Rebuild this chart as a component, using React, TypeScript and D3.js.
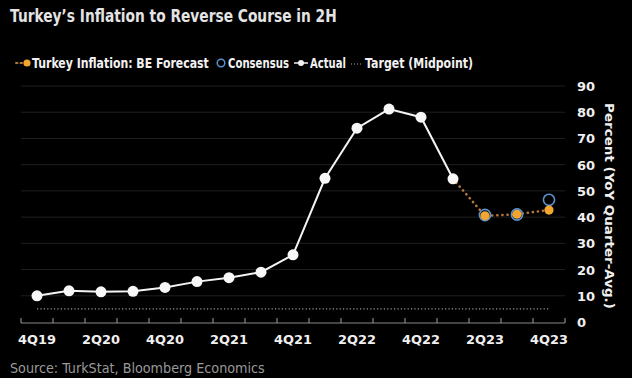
import React, { useLayoutEffect, useRef, useState } from "react";
import * as d3 from "d3";

const quarters = ["4Q19","1Q20","2Q20","3Q20","4Q20","1Q21","2Q21","3Q21","4Q21","1Q22","2Q22","3Q22","4Q22","1Q23","2Q23","3Q23","4Q23"];
const actualQuarters = ["4Q19","1Q20","2Q20","3Q20","4Q20","1Q21","2Q21","3Q21","4Q21","1Q22","2Q22","3Q22","4Q22","1Q23"];
const actualValues = [10.0, 11.9, 11.5, 11.7, 13.2, 15.4, 16.9, 19.0, 25.6, 54.8, 73.9, 81.2, 78.1, 54.6];
const forecastQuarters = ["1Q23","2Q23","3Q23","4Q23"];
const forecastValues = [54.6, 40.5, 41.1, 42.7];
const consensusQuarters = ["2Q23","3Q23","4Q23"];
const consensusValues = [40.8, 41.0, 46.6];
const targetValue = 5;
const yTicks = [0,10,20,30,40,50,60,70,80,90];
const xTickLabels = ["4Q19","2Q20","4Q20","2Q21","4Q21","2Q22","4Q22","2Q23","4Q23"];

const FONT = "'DejaVu Sans', Verdana, sans-serif";
const ORANGE = "#f2a531";
const BLUE = "#5a93cf";

type FitProps = {
  x: number; y: number; width: number; text: string;
  anchor?: "start" | "middle" | "end"; rotate?: number;
  fontSize: number; fontWeight?: string; fill: string; fontFamily?: string;
};

function FitText({ x, y, width, text, anchor = "start", rotate = 0, fontSize, fontWeight = "normal", fill, fontFamily }: FitProps) {
  const ref = useRef<SVGTextElement>(null);
  const [s, setS] = useState(1);
  useLayoutEffect(() => {
    if (ref.current) {
      const w = ref.current.getComputedTextLength();
      if (w > 0) setS(width / w);
    }
  }, [width, text, fontSize]);
  return (
    <g transform={`translate(${x},${y}) rotate(${rotate}) scale(${s},1)`}>
      <text ref={ref} x={0} y={0} textAnchor={anchor} fontSize={fontSize} fontWeight={fontWeight} fill={fill} fontFamily={fontFamily}>{text}</text>
    </g>
  );
}

export default function App() {
  const x = d3.scaleBand<string>().domain(quarters).range([21, 565]).padding(0);
  const cx = (q: string) => (x(q) as number) + x.bandwidth() / 2;
  const y = d3.scaleLinear().domain([0, 90]).range([322, 86]);

  const line = d3.line<[string, number]>().x(d => cx(d[0])).y(d => y(d[1]));
  const actual = actualQuarters.map((q, i) => [q, actualValues[i]] as [string, number]);
  const forecast = forecastQuarters.map((q, i) => [q, forecastValues[i]] as [string, number]);
  const consensus = consensusQuarters.map((q, i) => [q, consensusValues[i]] as [string, number]);

  const tickXs = [...quarters.map(q => x(q) as number), x.range()[1]];

  return (
    <svg width={632} height={378} style={{ position: "absolute", left: 0, top: 0, background: "#000" }} fontFamily={FONT}>
      <rect x={0} y={0} width={632} height={378} fill="#000" />
      <FitText x={10} y={22} width={327} text="Turkey’s Inflation to Reverse Course in 2H" fontSize={18} fontWeight="bold" fill="#e4e4e4" />

      {/* legend */}
      <line x1={16} x2={24} y1={63} y2={63} stroke="#b07a3a" strokeWidth={2} strokeDasharray="1.5,3" strokeLinecap="round" />
      <circle cx={27} cy={63} r={3.6} fill={ORANGE} />
      <FitText x={32} y={68} width={177} text="Turkey Inflation: BE Forecast" fontSize={13.5} fontWeight="bold" fill="#f2f2f2" />
      <circle cx={221} cy={63} r={3.8} fill="none" stroke={BLUE} strokeWidth={1.5} />
      <FitText x={228} y={68} width={61} text="Consensus" fontSize={13.5} fontWeight="bold" fill="#f2f2f2" />
      <line x1={294} x2={308} y1={63} y2={63} stroke="#f2f2f2" strokeWidth={1.5} />
      <circle cx={301} cy={63} r={3} fill="#f2f2f2" />
      <FitText x={310} y={68} width={36} text="Actual" fontSize={13.5} fontWeight="bold" fill="#f2f2f2" />
      <line x1={351} x2={362} y1={64} y2={64} stroke="#aaa" strokeWidth={1.2} strokeDasharray="1,2" />
      <FitText x={365} y={68} width={108} text="Target (Midpoint)" fontSize={13.5} fontWeight="bold" fill="#f2f2f2" />

      {/* gridlines */}
      {yTicks.filter(t => t > 0).map(t => (
        <line key={t} x1={21} x2={565} y1={y(t)} y2={y(t)} stroke="#1f1f1f" strokeWidth={1} />
      ))}

      {/* axis */}
      <line x1={21} x2={565} y1={323} y2={323} stroke="#8a8a8a" strokeWidth={1.2} />
      {tickXs.map((tx, i) => (
        <line key={i} x1={tx} x2={tx} y1={318} y2={323} stroke="#8a8a8a" strokeWidth={1.2} />
      ))}
      {xTickLabels.map(q => (
        <FitText key={q} x={cx(q)} y={344} width={38} text={q} anchor="middle" fontSize={13} fontWeight="bold" fill="#f0f0f0" />
      ))}

      {/* y axis labels */}
      {yTicks.map(t => (
        <text key={t} x={577} y={y(t) + 5} fill="#f0f0f0" fontSize={13} fontWeight="bold">{t}</text>
      ))}
      <FitText x={605} y={206} rotate={90} width={206} anchor="middle" text="Percent (YoY Quarter-Avg.)" fontSize={13} fontWeight="bold" fill="#f0f0f0" />

      {/* target */}
      <line x1={cx(quarters[0])} x2={cx(quarters[quarters.length - 1])} y1={y(targetValue)} y2={y(targetValue)} stroke="#9a9a9a" strokeWidth={1.2} strokeDasharray="1.2,2.2" />

      {/* forecast line */}
      <path d={line(forecast) || ""} fill="none" stroke="#b5783a" strokeWidth={2.6} strokeDasharray="0.1,5" strokeLinecap="round" />

      {/* actual */}
      <path d={line(actual) || ""} fill="none" stroke="#f4f4f4" strokeWidth={2} />
      {actual.map(d => (
        <circle key={d[0]} cx={cx(d[0])} cy={y(d[1])} r={5.5} fill="#f7f7f7" />
      ))}

      {/* consensus */}
      {consensus.map(d => (
        <circle key={d[0]} cx={cx(d[0])} cy={y(d[1])} r={5.6} fill="none" stroke={BLUE} strokeWidth={1.6} />
      ))}
      {/* forecast points */}
      {forecast.slice(1).map(d => (
        <circle key={d[0]} cx={cx(d[0])} cy={y(d[1])} r={4.6} fill={ORANGE} />
      ))}

      <FitText x={10} y={373} width={255} text="Source: TurkStat, Bloomberg Economics" fontSize={14} fill="#9a9a9a" fontFamily="'DejaVu Sans Condensed', 'Liberation Sans Narrow', sans-serif" />
    </svg>
  );
}
